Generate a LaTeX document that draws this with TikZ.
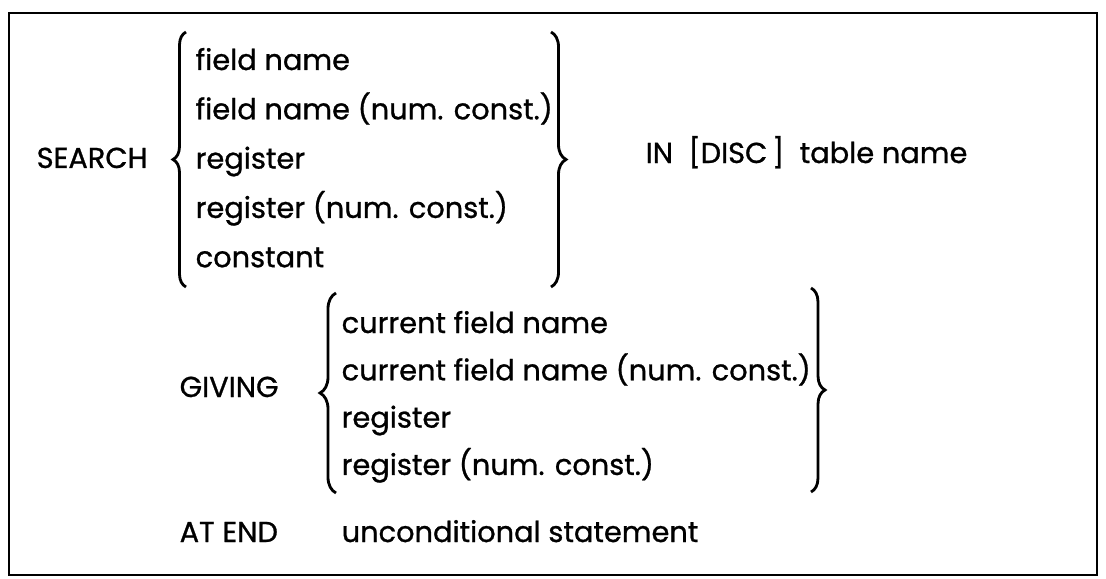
\documentclass[tikz,border=0pt]{standalone}
\usepackage{fontspec}
\setmainfont{Poppins}[FakeBold=0.9]
\usetikzlibrary{decorations.pathreplacing,positioning}
\tikzset{
    kw/.style={anchor=base west, inner sep=0pt, font=\fontsize{8.2}{10}\selectfont},
    choice/.style={kw},
    curly/.style={decorate, decoration={brace, amplitude=#1}, line width=0.8pt},
    curly/.default=0.13cm,
}

\begin{document}
\begin{tikzpicture}[x=0.01cm, y=-0.01cm]
    \useasboundingbox (0,0) rectangle (1106,579);
    \draw[line width=0.6pt] (9,13) rectangle (1097,575);

    % SEARCH clause
    \node[kw] (search) at (36,168) {SEARCH};
    \foreach \t [count=\i] in {field name, field name (num. const.), register,
                               register (num. const.), constant}
        \node[choice] (s\i) at (195,{70+49.3*(\i-1)}) {\t};
    \coordinate (sbl) at (186,287); \coordinate (stl) at (186,32);
    \coordinate (str) at (551,32);  \coordinate (sbr) at (551,287);
    \draw[curly] (sbl) -- (stl);
    \draw[curly=0.15cm] (str) -- (sbr);
    \node[kw] (in) at (645,163) {IN \ [DISC\,] \ table name};

    % GIVING clause
    \node[kw] (giving) at (179,397) {GIVING};
    \foreach \t [count=\i] in {current field name, current field name (num. const.),
                               register, register (num. const.)}
        \node[choice] (g\i) at (341,{333+47.3*(\i-1)}) {\t};
    \coordinate (gbl) at (336,493); \coordinate (gtl) at (336,293);
    \coordinate (gtr) at (811,288); \coordinate (gbr) at (811,492);
    \draw[curly=0.16cm] (gbl) -- (gtl);
    \draw[curly=0.14cm] (gtr) -- (gbr);

    % AT END clause
    \node[kw] (atend) at (179,542) {AT END};
    \node[kw] (stmt) at (341,542) {unconditional statement};
\end{tikzpicture}
\end{document}
